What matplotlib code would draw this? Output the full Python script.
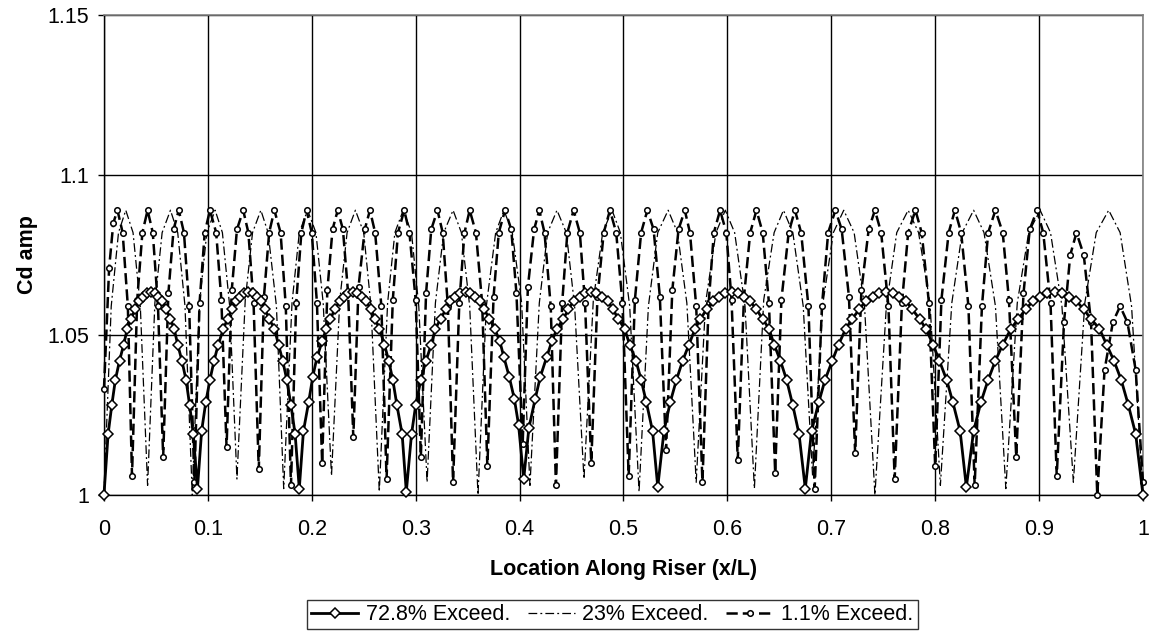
"""
Cd amplitude along the riser for three exceedance levels
"""
import matplotlib

matplotlib.use("Agg")
import matplotlib.pyplot as plt  # noqa:E402

# series labels, in legend order
LABELS = ["72.8% Exceed.", "23% Exceed.", "1.1% Exceed."]

X_TICKS = [0, 0.1, 0.2, 0.3, 0.4, 0.5, 0.6, 0.7, 0.8, 0.9, 1.0]
X_TICK_LABELS = ["0", "0.1", "0.2", "0.3", "0.4", "0.5", "0.6", "0.7", "0.8", "0.9", "1"]
Y_TICKS = [1.0, 1.05, 1.1, 1.15]
Y_TICK_LABELS = ["1", "1.05", "1.1", "1.15"]

# 72.8% exceedance (one row per half arch)
x_728 = [
    0.000, 0.004, 0.0075, 0.011, 0.015, 0.019, 0.0225, 0.026, 0.030, 0.034, 0.0375, 0.041, 0.045,
    0.049, 0.0525, 0.056, 0.060, 0.064, 0.0675, 0.071, 0.075, 0.079, 0.0825, 0.086, 0.090,
    0.094, 0.098, 0.102, 0.106, 0.110, 0.115, 0.119, 0.123, 0.127, 0.131, 0.135, 0.139,
    0.143, 0.147, 0.151, 0.155, 0.159, 0.164, 0.168, 0.172, 0.176, 0.180, 0.184, 0.188,
    0.192, 0.197, 0.201, 0.205, 0.210, 0.214, 0.218, 0.222, 0.227, 0.231, 0.235, 0.240,
    0.244, 0.248, 0.252, 0.257, 0.261, 0.265, 0.270, 0.274, 0.278, 0.282, 0.287, 0.291,
    0.296, 0.300, 0.305, 0.310, 0.315, 0.319, 0.324, 0.329, 0.333, 0.338, 0.343, 0.348,
    0.352, 0.357, 0.362, 0.366, 0.371, 0.376, 0.381, 0.385, 0.390, 0.395, 0.399, 0.404,
    0.409, 0.415, 0.420, 0.426, 0.431, 0.436, 0.442, 0.447, 0.452, 0.458, 0.463, 0.469,
    0.474, 0.479, 0.485, 0.490, 0.495, 0.501, 0.506, 0.512, 0.517, 0.522, 0.528, 0.533,
    0.539, 0.545, 0.551, 0.557, 0.563, 0.569, 0.574, 0.580, 0.586, 0.592, 0.598, 0.604,
    0.610, 0.616, 0.622, 0.628, 0.634, 0.640, 0.645, 0.651, 0.657, 0.663, 0.669, 0.675,
    0.681, 0.688, 0.694, 0.701, 0.707, 0.714, 0.720, 0.727, 0.733, 0.740, 0.746, 0.753,
    0.759, 0.765, 0.772, 0.778, 0.785, 0.791, 0.798, 0.804, 0.811, 0.817, 0.824, 0.830,
    0.837, 0.844, 0.851, 0.858, 0.865, 0.873, 0.880, 0.887, 0.894, 0.901, 0.908, 0.915,
    0.922, 0.929, 0.936, 0.943, 0.950, 0.958, 0.965, 0.972, 0.979, 0.986, 0.993, 1.000,
]
y_728 = [
    1.000, 1.019, 1.028, 1.036, 1.042, 1.047, 1.052, 1.055, 1.058, 1.0606, 1.062, 1.063, 1.0635,
    1.063, 1.062, 1.0606, 1.058, 1.055, 1.052, 1.047, 1.042, 1.036, 1.028, 1.019, 1.002,
    1.020, 1.029, 1.036, 1.042, 1.047, 1.052, 1.055, 1.058, 1.0606, 1.062, 1.063, 1.0635,
    1.063, 1.062, 1.0606, 1.058, 1.055, 1.052, 1.047, 1.042, 1.036, 1.028, 1.019, 1.002,
    1.020, 1.029, 1.037, 1.043, 1.048, 1.052, 1.055, 1.058, 1.0606, 1.062, 1.063, 1.0635,
    1.063, 1.062, 1.0606, 1.058, 1.055, 1.052, 1.047, 1.042, 1.036, 1.028, 1.019, 1.001,
    1.019, 1.028, 1.036, 1.042, 1.047, 1.052, 1.055, 1.058, 1.0606, 1.062, 1.063, 1.0635,
    1.063, 1.062, 1.0606, 1.058, 1.055, 1.052, 1.048, 1.043, 1.037, 1.030, 1.022, 1.005,
    1.021, 1.030, 1.037, 1.043, 1.048, 1.052, 1.055, 1.058, 1.0606, 1.062, 1.063, 1.0635,
    1.063, 1.062, 1.0606, 1.058, 1.055, 1.052, 1.047, 1.042, 1.036, 1.029, 1.020, 1.0025,
    1.020, 1.029, 1.036, 1.042, 1.047, 1.052, 1.055, 1.058, 1.0606, 1.062, 1.063, 1.0635,
    1.063, 1.062, 1.0606, 1.058, 1.055, 1.052, 1.047, 1.042, 1.036, 1.028, 1.019, 1.002,
    1.020, 1.029, 1.036, 1.042, 1.047, 1.052, 1.055, 1.058, 1.0606, 1.062, 1.063, 1.0635,
    1.063, 1.062, 1.0606, 1.058, 1.055, 1.052, 1.047, 1.042, 1.036, 1.029, 1.020, 1.0025,
    1.020, 1.029, 1.036, 1.042, 1.047, 1.052, 1.055, 1.058, 1.0606, 1.062, 1.063, 1.0635,
    1.063, 1.062, 1.0606, 1.058, 1.055, 1.052, 1.047, 1.042, 1.036, 1.028, 1.019, 1.000,
]

# 23% exceedance (one row per arch)
x_23 = [
    0.000, 0.007, 0.014, 0.021, 0.028, 0.035, 0.042,
    0.049, 0.056, 0.064, 0.071, 0.078, 0.085,
    0.092, 0.099, 0.107, 0.114, 0.121, 0.128,
    0.136, 0.143, 0.151, 0.158, 0.166, 0.173,
    0.181, 0.188, 0.196, 0.204, 0.211, 0.219,
    0.227, 0.234, 0.242, 0.250, 0.257, 0.265,
    0.273, 0.280, 0.288, 0.296, 0.303, 0.311,
    0.319, 0.327, 0.336, 0.344, 0.352, 0.360,
    0.368, 0.377, 0.385, 0.393, 0.402, 0.410,
    0.419, 0.427, 0.436, 0.445, 0.453, 0.462,
    0.471, 0.480, 0.489, 0.497, 0.506, 0.515,
    0.524, 0.533, 0.543, 0.552, 0.561, 0.570,
    0.579, 0.589, 0.598, 0.607, 0.617, 0.626,
    0.635, 0.645, 0.654, 0.663, 0.673, 0.682,
    0.692, 0.702, 0.712, 0.722, 0.732, 0.742,
    0.753, 0.763, 0.774, 0.784, 0.795, 0.805,
    0.816, 0.826, 0.837, 0.847, 0.858, 0.868,
    0.879, 0.890, 0.901, 0.911, 0.922, 0.933,
    0.944, 0.955, 0.967, 0.978, 0.989, 1.000,
]
y_23 = [
    1.000, 1.059, 1.082, 1.089, 1.082, 1.059, 1.003,
    1.060, 1.082, 1.089, 1.082, 1.059, 1.000,
    1.060, 1.082, 1.089, 1.082, 1.059, 1.005,
    1.061, 1.082, 1.089, 1.082, 1.059, 1.002,
    1.060, 1.082, 1.089, 1.082, 1.060, 1.006,
    1.061, 1.082, 1.089, 1.082, 1.059, 1.001,
    1.060, 1.082, 1.089, 1.082, 1.059, 1.004,
    1.060, 1.082, 1.089, 1.082, 1.059, 1.000,
    1.059, 1.082, 1.089, 1.082, 1.060, 1.003,
    1.060, 1.082, 1.089, 1.082, 1.059, 1.005,
    1.061, 1.082, 1.089, 1.082, 1.059, 1.001,
    1.059, 1.082, 1.089, 1.082, 1.060, 1.004,
    1.060, 1.082, 1.089, 1.082, 1.059, 1.002,
    1.061, 1.082, 1.089, 1.082, 1.059, 1.006,
    1.060, 1.082, 1.089, 1.082, 1.059, 1.000,
    1.059, 1.082, 1.089, 1.082, 1.060, 1.003,
    1.060, 1.082, 1.089, 1.082, 1.059, 1.002,
    1.060, 1.082, 1.089, 1.082, 1.059, 1.004,
    1.060, 1.082, 1.089, 1.082, 1.059, 1.000,
]

# 1.1% exceedance (one row per arch)
x_11 = [
    0.000, 0.005, 0.009, 0.013, 0.018, 0.023, 0.027,
    0.032, 0.037, 0.042, 0.047, 0.052, 0.057,
    0.062, 0.067, 0.072, 0.077, 0.082, 0.087,
    0.092, 0.097, 0.102, 0.108, 0.113, 0.118,
    0.123, 0.128, 0.134, 0.139, 0.144, 0.149,
    0.154, 0.159, 0.164, 0.170, 0.175, 0.180,
    0.185, 0.190, 0.195, 0.200, 0.205, 0.210,
    0.215, 0.220, 0.225, 0.230, 0.235, 0.240,
    0.245, 0.251, 0.256, 0.261, 0.267, 0.272,
    0.278, 0.283, 0.289, 0.294, 0.300, 0.305,
    0.310, 0.315, 0.321, 0.326, 0.331, 0.336,
    0.342, 0.347, 0.352, 0.358, 0.364, 0.369,
    0.375, 0.380, 0.386, 0.392, 0.397, 0.403,
    0.408, 0.414, 0.419, 0.424, 0.430, 0.435,
    0.441, 0.446, 0.452, 0.458, 0.463, 0.469,
    0.475, 0.481, 0.487, 0.493, 0.499, 0.505,
    0.511, 0.517, 0.523, 0.529, 0.535, 0.541,
    0.547, 0.553, 0.559, 0.564, 0.570, 0.576,
    0.582, 0.587, 0.593, 0.599, 0.604, 0.610,
    0.616, 0.622, 0.628, 0.634, 0.640, 0.646,
    0.652, 0.659, 0.665, 0.671, 0.678, 0.684,
    0.691, 0.697, 0.704, 0.710, 0.717, 0.723,
    0.729, 0.736, 0.742, 0.748, 0.755, 0.761,
    0.768, 0.774, 0.781, 0.787, 0.794, 0.800,
    0.806, 0.813, 0.819, 0.825, 0.832, 0.838,
    0.845, 0.851, 0.858, 0.865, 0.871, 0.878,
    0.885, 0.891, 0.898, 0.904, 0.911, 0.917,
    0.924, 0.930, 0.936, 0.943, 0.950, 0.956,
    0.963, 0.971, 0.978, 0.985, 0.993, 1.000,
]
y_11 = [
    1.033, 1.071, 1.085, 1.089, 1.082, 1.059, 1.006,
    1.061, 1.082, 1.089, 1.082, 1.059, 1.012,
    1.063, 1.083, 1.089, 1.082, 1.059, 1.004,
    1.060, 1.082, 1.089, 1.082, 1.061, 1.015,
    1.064, 1.083, 1.089, 1.082, 1.060, 1.008,
    1.062, 1.082, 1.089, 1.082, 1.059, 1.003,
    1.060, 1.082, 1.089, 1.082, 1.060, 1.010,
    1.064, 1.083, 1.089, 1.083, 1.063, 1.018,
    1.065, 1.083, 1.089, 1.082, 1.059, 1.005,
    1.061, 1.082, 1.089, 1.082, 1.061, 1.012,
    1.063, 1.083, 1.089, 1.082, 1.059, 1.004,
    1.060, 1.082, 1.089, 1.082, 1.060, 1.009,
    1.062, 1.082, 1.089, 1.083, 1.063, 1.016,
    1.065, 1.083, 1.089, 1.082, 1.059, 1.003,
    1.060, 1.082, 1.089, 1.082, 1.060, 1.010,
    1.062, 1.082, 1.089, 1.082, 1.060, 1.006,
    1.061, 1.082, 1.089, 1.083, 1.062, 1.014,
    1.064, 1.083, 1.089, 1.082, 1.059, 1.004,
    1.060, 1.082, 1.089, 1.082, 1.061, 1.011,
    1.062, 1.082, 1.089, 1.082, 1.060, 1.007,
    1.061, 1.082, 1.089, 1.082, 1.059, 1.002,
    1.059, 1.082, 1.089, 1.083, 1.062, 1.013,
    1.064, 1.083, 1.089, 1.082, 1.059, 1.005,
    1.060, 1.082, 1.089, 1.082, 1.060, 1.009,
    1.061, 1.082, 1.089, 1.082, 1.059, 1.003,
    1.059, 1.082, 1.089, 1.082, 1.061, 1.012,
    1.063, 1.083, 1.089, 1.082, 1.060, 1.006,
    1.054, 1.075, 1.082, 1.075, 1.054, 1.000,
    1.039, 1.054, 1.059, 1.054, 1.039, 1.004,
]


def plot_series(ax):
    """
    Draws the three exceedance curves, the 72.8% one on top
    """
    h23, = ax.plot(
        x_23, y_23, color="k", linewidth=0.9, dashes=(7, 2.5, 1.5, 2.5),
        zorder=3, clip_on=False, label=LABELS[1],
    )
    h11, = ax.plot(
        x_11, y_11, color="k", linewidth=1.8, dashes=(4.5, 2.0),
        marker="o", markersize=4, markerfacecolor="white",
        markeredgecolor="k", markeredgewidth=1.1,
        zorder=4, clip_on=False, label=LABELS[2],
    )
    h728, = ax.plot(
        x_728, y_728, color="k", linewidth=2.0,
        marker="D", markersize=5.5, markerfacecolor="white",
        markeredgecolor="k", markeredgewidth=1.1,
        zorder=5, clip_on=False, label=LABELS[0],
    )
    return [h728, h23, h11]


def style_axes(ax):
    ax.set_xlim(0, 1)
    ax.set_ylim(1, 1.15)
    ax.set_xticks(X_TICKS)
    ax.set_xticklabels(X_TICK_LABELS)
    ax.set_yticks(Y_TICKS)
    ax.set_yticklabels(Y_TICK_LABELS)

    ax.grid(True, color="k", linewidth=1.0, zorder=0)
    ax.set_axisbelow(True)

    ax.tick_params(axis="x", direction="out", length=4.5, width=1, pad=13)
    ax.tick_params(axis="y", direction="out", length=4.5, width=1, pad=6)

    for side in ["left", "bottom"]:
        ax.spines[side].set_color("k")
        ax.spines[side].set_linewidth(1.0)
    for side in ["top", "right"]:
        ax.spines[side].set_color("#808080")
        ax.spines[side].set_linewidth(1.2)

    ax.set_xlabel("Location Along Riser (x/L)", fontweight="bold", va="center")
    ax.xaxis.set_label_coords(0.5, -0.156)
    ax.set_ylabel("Cd amp", fontweight="bold", va="center")
    ax.yaxis.set_label_coords(-0.074, 0.5)


def main():
    plt.rcParams.update({"font.size": 15.5, "font.family": ["Liberation Sans", "DejaVu Sans"]})

    fig, ax = plt.subplots(figsize=(11.55, 6.31), dpi=100)
    fig.subplots_adjust(left=0.0900, right=0.9896, bottom=0.2155, top=0.9762)

    handles = plot_series(ax)
    style_axes(ax)

    leg = fig.legend(
        handles=handles, labels=LABELS, loc="center", bbox_to_anchor=(0.530, 0.026),
        ncol=3, frameon=True, fancybox=False, handlelength=2.2,
        handletextpad=0.35, columnspacing=0.8, borderpad=0.2, fontsize=15.5,
    )
    leg.get_frame().set_edgecolor("k")
    leg.get_frame().set_linewidth(1.0)

    fig.savefig("out.png", dpi=100)
    plt.close(fig)


if __name__ == "__main__":
    main()
